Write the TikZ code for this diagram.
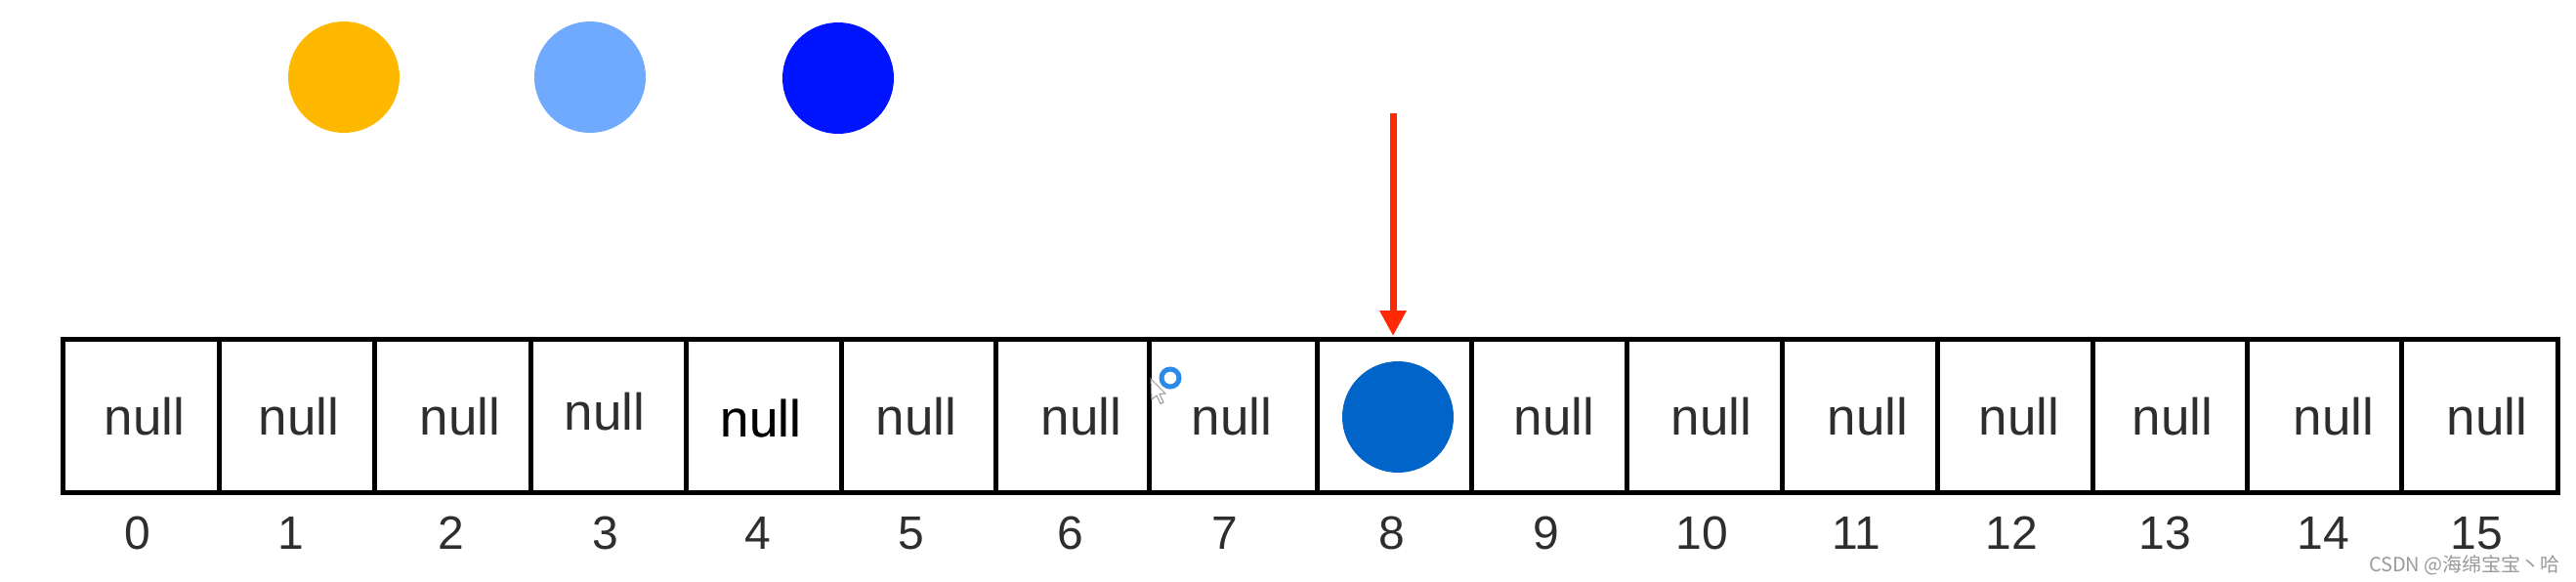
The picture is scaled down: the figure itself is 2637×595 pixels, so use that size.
\documentclass[tikz,border=0pt]{standalone}
\usepackage{fontspec}
\setmainfont{Liberation Sans}
\newfontfamily\cjkfont{Noto Sans CJK SC}
\usetikzlibrary{arrows.meta}
\definecolor{cyellow}{HTML}{FFB800}
\definecolor{clight}{HTML}{70AAFF}
\definecolor{cblue}{HTML}{0014FF}
\definecolor{cmid}{HTML}{0064C8}
\definecolor{cred}{HTML}{FF2A05}
\definecolor{ctext}{HTML}{2E2E2E}
\definecolor{cring}{HTML}{2A8AE8}
\definecolor{cmark}{HTML}{9A9A9A}
\tikzset{
  cellbox/.style={draw=black, line width=5pt, rectangle, inner sep=0pt, minimum height=157pt},
  nulltxt/.style={anchor=base, inner sep=0pt, text=ctext, font=\fontsize{53}{60}\selectfont},
  idxtxt/.style={anchor=base, inner sep=0pt, text=ctext, font=\fontsize{48}{56}\selectfont},
  ball/.style={circle, fill=#1, draw=none, inner sep=0pt, minimum size=114pt},
  pointer/.style={draw=cred, line width=7pt, -{Triangle[width=26pt,length=26pt]}, shorten >=1pt},
}
\begin{document}
\begin{tikzpicture}[x=1pt,y=-1pt]
\useasboundingbox (0,0) rectangle (2637,595);
% top balls
\node[ball=cyellow] (b1) at (352,79) {};
\node[ball=clight] (b2) at (604,79) {};
\node[ball=cblue] (b3) at (858,80) {};
% cells
\foreach \i/\l/\r in {0/64/224,1/224/383,2/383/543,3/543/702,4/702/861,5/861/1019,6/1019/1176,7/1176/1348,8/1348/1506,9/1506/1665,10/1665/1824,11/1824/1983,12/1983/2142,13/2142/2300,14/2300/2458,15/2458/2618}{
  \pgfmathsetmacro{\w}{\r-\l}
  \pgfmathsetmacro{\c}{(\r+\l)/2}
  \node[cellbox, minimum width=\w pt] (c\i) at (\c,426) {};
}
% null texts
\foreach \i/\x/\y in {0/148/445,1/306/445,2/471/445,3/619/440,4/779/447,5/938/445,6/1107/445,7/1261/445,9/1591/445,10/1752/445,11/1912/445,12/2067/445,13/2224/445,14/2389/445,15/2546/445}{
  \node[nulltxt] (n\i) at (\x,\y) {null};
}
\node[nulltxt, text=black] at (n4.base) {null};
% ball in cell 8
\node[ball=cmid] (b8) at (1431,427) {};
% index labels
\foreach \i/\x in {0/141,1/298,2/462,3/620,4/776,5/933,6/1096,7/1254,8/1425,9/1583,10/1742,11/1900,12/2059,13/2216,14/2378,15/2535}{
  \node[idxtxt] (i\i) at (\x,562) {\i};
}
% red pointer
\coordinate (ptop) at (1426,116);
\draw[pointer] (ptop) -- (ptop |- c8.north);
% cursor artefact
\node[circle, draw=cring, line width=5pt, minimum size=18pt, inner sep=0pt] (ring) at (1198,387) {};
\filldraw[fill=white, draw=gray!80, line width=1pt] (1178,388) -- (1193,403) -- (1187,403.5) -- (1191,412) -- (1188,413.5) -- (1184,405) -- (1179,409) -- cycle;
% watermark
\node[anchor=base east, inner sep=0pt, text=cmark, font=\cjkfont\fontsize{20}{24}\selectfont] (wm) at (2621,585) {CSDN @海绵宝宝丶哈};
\end{tikzpicture}
\end{document}
